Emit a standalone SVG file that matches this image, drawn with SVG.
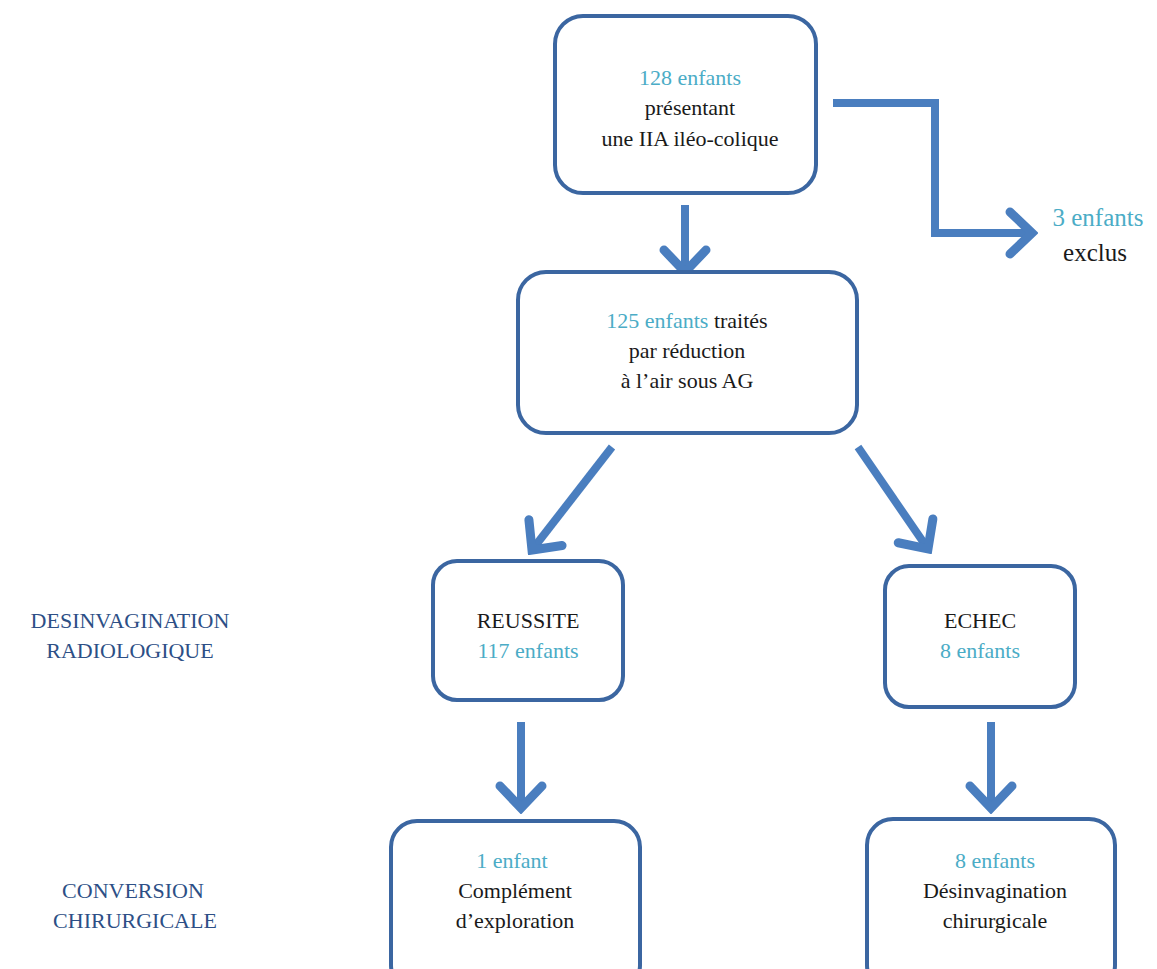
<svg xmlns="http://www.w3.org/2000/svg" width="1157" height="969" viewBox="0 0 1157 969">
<style>
.box{fill:#fff;stroke:#3b66a1;stroke-width:4}
text{font-family:'Liberation Serif','Times New Roman',serif;font-size:22px;text-anchor:middle}
.con{fill:none;stroke:#4a7ebf;stroke-width:8;stroke-linejoin:miter}
</style>
<defs>
<marker id="ah" markerUnits="userSpaceOnUse" viewBox="-30 -28 36 56" refX="0" refY="0" markerWidth="36" markerHeight="56" orient="auto">
<path d="M-22,-21 L0,0 L-22,21" fill="none" stroke="#4a7ebf" stroke-width="9" stroke-linecap="round"/>
</marker>
</defs>
<rect width="1157" height="969" fill="#fff"/>
<g id="connectors">
<path class="con" d="M685,205 L685,272" marker-end="url(#ah)"/>
<path class="con" d="M833,103 L935,103 L935,233 L1032,233" marker-end="url(#ah)"/>
<path class="con" d="M612,447 L532,550" marker-end="url(#ah)"/>
<path class="con" d="M858,447 L928,549" marker-end="url(#ah)"/>
<path class="con" d="M521,722 L521,808" marker-end="url(#ah)"/>
<path class="con" d="M991,722 L991,808" marker-end="url(#ah)"/>
</g>
<g id="top-box">
<rect class="box" x="555" y="16" width="261" height="177" rx="28"/>
<text font-family="Liberation Serif" fill="#4bacc6" x="690" y="85">128 enfants</text>
<text font-family="Liberation Serif" fill="#1a1a1a" x="690" y="115">présentant</text>
<text font-family="Liberation Serif" fill="#1a1a1a" x="690" y="146">une IIA  iléo-colique</text>
</g>
<g id="treated-box">
<rect class="box" x="518" y="272" width="339" height="161" rx="28"/>
<text font-family="Liberation Serif" fill="#1a1a1a" x="687" y="328"><tspan fill="#4bacc6">125 enfants</tspan> traités</text>
<text font-family="Liberation Serif" fill="#1a1a1a" x="687" y="358">par réduction</text>
<text font-family="Liberation Serif" fill="#1a1a1a" x="687" y="388">à l’air sous AG</text>
</g>
<g id="excluded">
<text font-family="Liberation Serif" fill="#4bacc6" x="1098" y="226" font-size="25" style="font-size:25px">3 enfants</text>
<text font-family="Liberation Serif" fill="#1a1a1a" x="1095" y="261" style="font-size:25px">exclus</text>
</g>
<g id="success-box">
<rect class="box" x="433" y="561" width="190" height="139" rx="24"/>
<text font-family="Liberation Serif" fill="#1a1a1a" x="528" y="628">REUSSITE</text>
<text font-family="Liberation Serif" fill="#4bacc6" x="528" y="658">117 enfants</text>
</g>
<g id="failure-box">
<rect class="box" x="885" y="566" width="190" height="141" rx="24"/>
<text font-family="Liberation Serif" fill="#1a1a1a" x="980" y="628">ECHEC</text>
<text font-family="Liberation Serif" fill="#4bacc6" x="980" y="658">8 enfants</text>
</g>
<g id="exploration-box">
<rect class="box" x="391" y="821" width="249" height="170" rx="26"/>
<text font-family="Liberation Serif" fill="#4bacc6" x="512" y="868">1 enfant</text>
<text font-family="Liberation Serif" fill="#1a1a1a" x="515" y="898">Complément</text>
<text font-family="Liberation Serif" fill="#1a1a1a" x="515" y="928">d’exploration</text>
</g>
<g id="surgery-box">
<rect class="box" x="867" y="819" width="248" height="172" rx="26"/>
<text font-family="Liberation Serif" fill="#4bacc6" x="995" y="868">8 enfants</text>
<text font-family="Liberation Serif" fill="#1a1a1a" x="995" y="898">Désinvagination</text>
<text font-family="Liberation Serif" fill="#1a1a1a" x="995" y="928">chirurgicale</text>
</g>
<g id="lab1">
<text fill="#2d4f86" x="130" y="628">DESINVAGINATION</text>
<text fill="#2d4f86" x="130" y="658">RADIOLOGIQUE</text>
</g>
<g id="lab2">
<text fill="#2d4f86" x="133" y="898">CONVERSION</text>
<text fill="#2d4f86" x="135" y="928">CHIRURGICALE</text>
</g>
</svg>
